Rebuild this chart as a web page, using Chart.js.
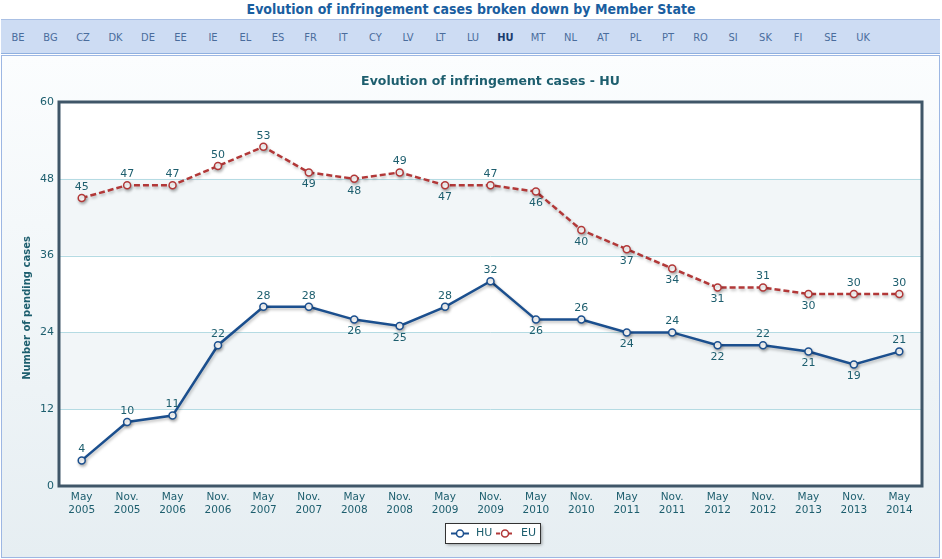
<!DOCTYPE html>
<html><head><meta charset="utf-8">
<script src="https://cdn.jsdelivr.net/npm/chart.js@4"></script>
<style>
html,body{margin:0;padding:0;width:942px;height:559px;overflow:hidden;background:#fff;font-family:"DejaVu Sans",Verdana,sans-serif;}
#hdr{position:absolute;left:0;top:1px;width:942px;height:18px;text-align:center;font:bold 14px "DejaVu Sans Condensed","DejaVu Sans",sans-serif;color:#1a5ea0;line-height:17px;}
#nav{position:absolute;left:1px;top:19px;width:939px;height:33px;background:#cddcf3;border-top:1px solid #aac0e4;border-bottom:1px solid #8fb0e0;}
#nav span{position:absolute;top:0;font:11px "DejaVu Sans Condensed","DejaVu Sans",sans-serif;line-height:35px;color:#4a6c9c;transform:translateX(-50%);}
#nav span.sel{font-weight:bold;color:#1a3c6e;}
#panel{position:absolute;left:1px;top:55px;width:937px;height:501px;border:1px solid #9db7e3;background:linear-gradient(#fbfdfe,#e6eef2);}
#c{position:absolute;left:0;top:0;}
</style></head><body>
<div id="hdr">Evolution of infringement cases broken down by Member State</div>
<div id="nav"></div>
<div id="panel"></div>
<canvas id="c" width="942" height="559"></canvas>
<script>
const memberStates = ["BE","BG","CZ","DK","DE","EE","IE","EL","ES","FR","IT","CY","LV","LT","LU","HU","MT","NL","AT","PL","PT","RO","SI","SK","FI","SE","UK"];
const categories = [["May","2005"],["Nov.","2005"],["May","2006"],["Nov.","2006"],["May","2007"],["Nov.","2007"],["May","2008"],["Nov.","2008"],["May","2009"],["Nov.","2009"],["May","2010"],["Nov.","2010"],["May","2011"],["Nov.","2011"],["May","2012"],["Nov.","2012"],["May","2013"],["Nov.","2013"],["May","2014"]];
const huValues = [4,10,11,22,28,28,26,25,28,32,26,26,24,24,22,22,21,19,21];
const euValues = [45,47,47,50,53,49,48,49,47,47,46,40,37,34,31,31,30,30,30];
const huLabelPos = ["a","a","a","a","a","a","b","b","a","a","b","a","b","a","b","a","b","b","a"];
const euLabelPos = ["a","a","a","a","a","b","b","a","b","a","b","b","b","b","b","a","b","a","a"];
const yTicks = [0,12,24,36,48,60];

const nav = document.getElementById('nav');
memberStates.forEach((m,i)=>{
  const s=document.createElement('span');
  s.textContent=m; s.style.left=(17+i*32.5)+'px';
  if(m==='HU') s.className='sel';
  nav.appendChild(s);
});

const TEAL='#1d5e6e';
const HU_COLOR='#1b4f8e', EU_COLOR='#b23838';

const decor = {
  id:'decor',
  beforeDatasetsDraw(chart){
    const {ctx, chartArea:a, scales:{y}} = chart;
    ctx.save();
    ctx.fillStyle='#fff';
    ctx.fillRect(a.left,a.top,a.right-a.left,a.bottom-a.top);
    ctx.fillStyle='#f2f6f8';
    [[12,24],[36,48]].forEach(([lo,hi])=>{
      const t=y.getPixelForValue(hi), b=y.getPixelForValue(lo);
      ctx.fillRect(a.left,t,a.right-a.left,b-t);
    });
    ctx.strokeStyle='#b5dbe3'; ctx.lineWidth=1;
    [12,24,36,48].forEach(v=>{
      const p=Math.round(y.getPixelForValue(v))+0.5;
      ctx.beginPath(); ctx.moveTo(a.left,p); ctx.lineTo(a.right,p); ctx.stroke();
    });
    ctx.strokeStyle='#3f5668'; ctx.lineWidth=3;
    ctx.strokeRect(a.left,a.top,a.right-a.left,a.bottom-a.top);
    // title
    ctx.fillStyle=TEAL; ctx.font='bold 12.5px "DejaVu Sans"'; ctx.textAlign='center'; ctx.textBaseline='middle';
    ctx.fillText('Evolution of infringement cases - HU',(a.left+a.right)/2,82);
    // y axis title
    ctx.save(); ctx.translate(27,308); ctx.rotate(-Math.PI/2);
    ctx.font='bold 10px "DejaVu Sans"'; ctx.fillText('Number of pending cases',0,0); ctx.restore();
    ctx.restore();
  },
  beforeDatasetDraw(chart){
    const ctx=chart.ctx; ctx.save();
    ctx.shadowColor='rgba(0,0,0,0.25)'; ctx.shadowOffsetX=1; ctx.shadowOffsetY=2; ctx.shadowBlur=3;
  },
  afterDatasetDraw(chart){ chart.ctx.restore(); },
  afterDatasetsDraw(chart){
    const ctx=chart.ctx; ctx.save();
    ctx.font='11px "DejaVu Sans"'; ctx.fillStyle=TEAL; ctx.textAlign='center'; ctx.textBaseline='middle';
    const pos=[huLabelPos,euLabelPos];
    chart.data.datasets.forEach((ds,di)=>{
      chart.getDatasetMeta(di).data.forEach((pt,i)=>{
        const dy = pos[di][i]==='a' ? -11 : 12;
        ctx.fillText(String(ds.data[i]), pt.x, pt.y+dy);
      });
    });
    // legend
    const lx=445, ly=523, lw=95, lh=20;
    ctx.shadowColor='rgba(0,0,0,0.35)'; ctx.shadowOffsetX=2; ctx.shadowOffsetY=2; ctx.shadowBlur=3;
    ctx.fillStyle='#fff'; ctx.fillRect(lx,ly,lw,lh);
    ctx.shadowColor='transparent';
    ctx.strokeStyle='#333'; ctx.lineWidth=1; ctx.strokeRect(lx+0.5,ly+0.5,lw,lh);
    const items=[['HU',HU_COLOR,[]],['EU',EU_COLOR,[4,2]]];
    items.forEach(([t,c,d],k)=>{
      const x0=lx+6+k*45, yc=ly+10.5;
      ctx.strokeStyle=c; ctx.lineWidth=2; ctx.setLineDash(d);
      ctx.beginPath(); ctx.moveTo(x0,yc); ctx.lineTo(x0+18,yc); ctx.stroke();
      ctx.setLineDash([]);
      ctx.fillStyle='#fff'; ctx.lineWidth=1.5;
      ctx.beginPath(); ctx.arc(x0+9,yc,3.5,0,Math.PI*2); ctx.fill(); ctx.stroke();
      ctx.fillStyle=TEAL; ctx.textAlign='left'; ctx.font='11px "DejaVu Sans"';
      ctx.fillText(t,x0+25,yc);
    });
    ctx.restore();
  }
};

new Chart(document.getElementById('c'),{
  type:'line',
  data:{labels:categories,datasets:[
    {label:'HU',data:huValues,borderColor:HU_COLOR,borderWidth:2.5,pointRadius:3.5,pointBorderWidth:1.5,pointBackgroundColor:'#fff',pointBorderColor:HU_COLOR,tension:0},
    {label:'EU',data:euValues,borderColor:EU_COLOR,borderWidth:2.5,borderDash:[6,3],pointRadius:3.5,pointBorderWidth:1.5,pointBackgroundColor:'#fff',pointBorderColor:EU_COLOR,tension:0}
  ]},
  options:{
    responsive:false,animation:false,
    layout:{padding:{left:0,right:20,top:102,bottom:0}},
    plugins:{legend:{display:false},tooltip:{enabled:false},title:{display:false}},
    scales:{
      x:{offset:true,grid:{display:false,drawTicks:false},border:{display:false},
        ticks:{color:TEAL,font:{family:'DejaVu Sans',size:10.5,lineHeight:1.25},maxRotation:0,autoSkip:false,padding:5},
        afterFit(s){s.height=73;}},
      y:{min:0,max:60,afterBuildTicks(s){s.ticks=yTicks.map(v=>({value:v}));},
        grid:{display:false,drawTicks:false},border:{display:false},
        ticks:{color:TEAL,font:{family:'DejaVu Sans',size:11},padding:5},
        afterFit(s){s.width=59;}}
    }
  },
  plugins:[decor]
});
</script>
</body></html>
